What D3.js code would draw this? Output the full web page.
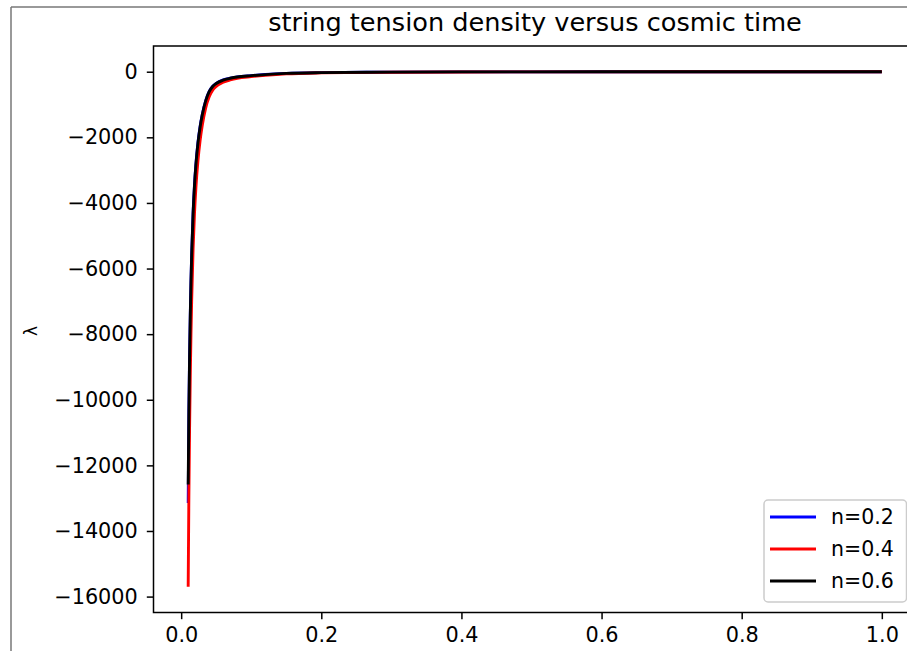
<!DOCTYPE html>
<html>
<head>
<meta charset="utf-8">
<script src="https://cdn.jsdelivr.net/npm/d3@7"></script>
<style>
body { margin: 0; background: #fff; }
text { font-family: "DejaVu Sans", sans-serif; fill: #000; }
</style>
</head>
<body>
<svg id="chart" width="907" height="651"></svg>
<script>
// cosmic time samples
var tValues = [0.010, 0.011, 0.012, 0.013, 0.014, 0.015, 0.017, 0.019, 0.021, 0.024,
               0.027, 0.030, 0.035, 0.040, 0.045, 0.050, 0.060, 0.070, 0.080, 0.100,
               0.120, 0.150, 0.200, 0.300, 0.400, 0.600, 0.800, 1.000];

// string tension density
var lambdaN02 = [-13150, -10300, -8650, -7380, -6360, -5540, -4300, -3450, -2820, -2150,
                 -1670, -1310, -880, -600, -445, -355, -250, -195, -158, -118,
                 -86, -51, -27, -12, -6, -3, -2, -1];
var lambdaN04 = [-15700, -12900, -10850, -9250, -7980, -6950, -5400, -4330, -3540, -2700,
                 -2100, -1650, -1100, -760, -560, -450, -320, -250, -200, -150,
                 -110, -65, -35, -15, -8, -4, -2, -1];
var lambdaN06 = [-12580, -10380, -8720, -7440, -6410, -5590, -4340, -3480, -2850, -2170,
                 -1690, -1330, -890, -610, -450, -360, -255, -200, -160, -120,
                 -88, -52, -28, -12, -6, -3, -2, -1];

var seriesNames = ["n=0.2", "n=0.4", "n=0.6"];
var seriesColors = ["#0000ff", "#ff0000", "#000000"];
var xTicks = [0, 0.2, 0.4, 0.6, 0.8, 1.0];
var yTicks = [0, -2000, -4000, -6000, -8000, -10000, -12000, -14000, -16000];

var svg = d3.select("#chart");

// axes box (right edge falls outside the picture)
var box = {left: 153.5, top: 46, right: 916.5, bottom: 612.5};

var series = [lambdaN02, lambdaN04, lambdaN06].map(function(vals, i) {
    return {name: seriesNames[i], color: seriesColors[i],
            points: tValues.map(function(t, j) { return [t, vals[j]]; })};
});

// matplotlib style 5% margins
var xMin = d3.min(tValues), xMax = d3.max(tValues);
var xPad = (xMax - xMin) * 0.05;
var allY = [].concat(lambdaN02, lambdaN04, lambdaN06);
var yMin = d3.min(allY), yMax = d3.max(allY);
var yPad = (yMax - yMin) * 0.05;

var x = d3.scaleLinear().domain([xMin - xPad, xMax + xPad]).range([box.left, box.right]);
var y = d3.scaleLinear().domain([yMin - yPad, yMax + yPad]).range([box.bottom, box.top]);

// figure frame
svg.append("rect").attr("width", 907).attr("height", 651).attr("fill", "#fff");
svg.append("line").attr("x1", 11).attr("x2", 11).attr("y1", 7).attr("y2", 651)
    .attr("stroke", "#777").attr("stroke-width", 1.5);
svg.append("line").attr("x1", 11).attr("x2", 907).attr("y1", 7).attr("y2", 7)
    .attr("stroke", "#777").attr("stroke-width", 1.5);

svg.append("clipPath").attr("id", "plotClip")
  .append("rect")
    .attr("x", box.left).attr("y", box.top)
    .attr("width", box.right - box.left).attr("height", box.bottom - box.top);

var line = d3.line()
    .x(function(d) { return x(d[0]); })
    .y(function(d) { return y(d[1]); })
    .curve(d3.curveMonotoneX);

var plot = svg.append("g").attr("clip-path", "url(#plotClip)");
series.forEach(function(s) {
    plot.append("path")
        .attr("d", line(s.points))
        .attr("fill", "none")
        .attr("stroke", s.color)
        .attr("stroke-width", 2.9)
        .attr("stroke-linejoin", "round");
});

// axes
var xAxis = d3.axisBottom(x).tickValues(xTicks).tickFormat(d3.format(".1f"))
    .tickSize(6.7).tickPadding(8.5);
var yAxis = d3.axisLeft(y).tickValues(yTicks).tickFormat(d3.format("d"))
    .tickSize(6.7).tickPadding(9);

var gx = svg.append("g").attr("transform", "translate(0," + box.bottom + ")").call(xAxis);
var gy = svg.append("g").attr("transform", "translate(" + box.left + ",0)").call(yAxis);
[gx, gy].forEach(function(g) {
    g.select(".domain").remove();
    g.selectAll(".tick line").attr("stroke", "#000").attr("stroke-width", 1.5);
    g.selectAll(".tick text").attr("font-size", 20.8).attr("fill", "#000")
        .style("font-family", "DejaVu Sans, sans-serif");
});

// spines
svg.append("rect")
    .attr("x", box.left).attr("y", box.top)
    .attr("width", box.right - box.left).attr("height", box.bottom - box.top)
    .attr("fill", "none").attr("stroke", "#000").attr("stroke-width", 1.5);

svg.append("text")
    .attr("x", (box.left + box.right) / 2).attr("y", 31)
    .attr("text-anchor", "middle").attr("font-size", 25.6)
    .text("string tension density versus cosmic time");

svg.append("text")
    .attr("transform", "translate(37,331) rotate(-90)")
    .attr("text-anchor", "middle").attr("font-size", 17)
    .text("λ");

// legend, lower right
var legend = svg.append("g");
legend.append("rect")
    .attr("x", 764).attr("y", 500).attr("width", 142.5).attr("height", 102)
    .attr("rx", 4).attr("fill", "#fff").attr("fill-opacity", 0.8)
    .attr("stroke", "#ccc").attr("stroke-width", 1.5);
series.forEach(function(s, i) {
    var ly = 517 + i * 32;
    legend.append("line")
        .attr("x1", 770).attr("x2", 816).attr("y1", ly).attr("y2", ly)
        .attr("stroke", s.color).attr("stroke-width", 2.9);
    legend.append("text")
        .attr("x", 831).attr("y", ly).attr("dy", "0.36em")
        .attr("font-size", 20.5)
        .text(s.name);
});
</script>
</body>
</html>
